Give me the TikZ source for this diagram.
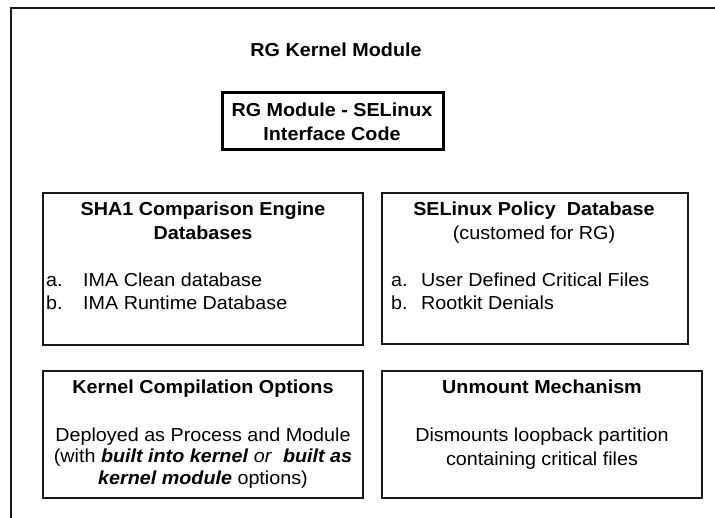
\documentclass[tikz,border=0pt]{standalone}
\usepackage{fontspec}
\setmainfont[FakeStretch=1.05]{Liberation Sans}
\newcommand\fsz{\fontsize{18.8pt}{21.5pt}\selectfont}
\begin{document}
\begin{tikzpicture}[x=1pt,y=-1pt,
  frame/.style={draw=black!90, line width=2pt},
  box/.style={draw=black!90, line width=1.8pt, inner sep=0pt},
  thickbox/.style={draw=black, line width=3pt, inner sep=0pt},
  ttl/.style={font=\fsz\bfseries, anchor=base, inner sep=0pt},
  txt/.style={font=\fsz, anchor=base, inner sep=0pt},
  lst/.style={font=\fsz, anchor=base west, inner sep=0pt}]
\useasboundingbox (0,0) rectangle (715,518);
\clip (0,0) rectangle (715,518);
% outer frame (cropped at right and bottom)
\coordinate (fbl) at (11,540);
\coordinate (ftl) at (11,8);
\coordinate (ftr) at (740,8);
\draw[frame] (fbl) -- (ftl) -- (ftr);

\node[ttl] (title) at (336,57) {RG Kernel Module};

% RG Module box
\node[thickbox, minimum width=221pt, minimum height=57pt] (mod) at (332.5,121.5) {};
\node[ttl] (mod1) at (332,117) {RG Module - SELinux};
\node[ttl] (mod2) at (332,141) {Interface Code};

% SHA1 box
\node[box, minimum width=320pt, minimum height=152pt] (sha) at (203,269) {};
\node[ttl] (sha1) at (203,216) {SHA1 Comparison Engine};
\node[ttl] (sha2) at (203,240) {Databases};
\node[lst] (shaa) at (46,287) {a.};
\node[lst] (shaat) at (83,287) {IMA Clean database};
\node[lst] (shab) at (46,310) {b.};
\node[lst] (shabt) at (83,310) {IMA Runtime Database};

% SELinux policy box
\node[box, minimum width=306pt, minimum height=151pt] (pol) at (535,268.5) {};
\node[ttl] (pol1) at (534,216) {SELinux Policy~~Database};
\node[txt] (pol2) at (534,240) {(customed for RG)};
\node[lst] (pola) at (391,287) {a.};
\node[lst] (polat) at (421,287) {User Defined Critical Files};
\node[lst] (polb) at (391,310) {b.};
\node[lst] (polbt) at (421,310) {Rootkit Denials};

% Kernel compilation box
\node[box, minimum width=320pt, minimum height=127pt] (ker) at (203,434.5) {};
\node[ttl] (ker1) at (203,394) {Kernel Compilation Options};
\node[txt] (ker2) at (203,442) {Deployed as Process and Module};
\node[txt] (ker3) at (203,463) {(with \textbf{\textit{built into kernel}} \textit{or}~~\textbf{\textit{built as}}};
\node[txt] (ker4) at (203,484) {\textbf{\textit{kernel module}} options)};

% Unmount box
\node[box, minimum width=320pt, minimum height=127pt] (unm) at (542,434.5) {};
\node[ttl] (unm1) at (542,394) {Unmount Mechanism};
\node[txt] (unm2) at (542,442) {Dismounts loopback partition};
\node[txt] (unm3) at (542,465) {containing critical files};
\end{tikzpicture}
\end{document}
